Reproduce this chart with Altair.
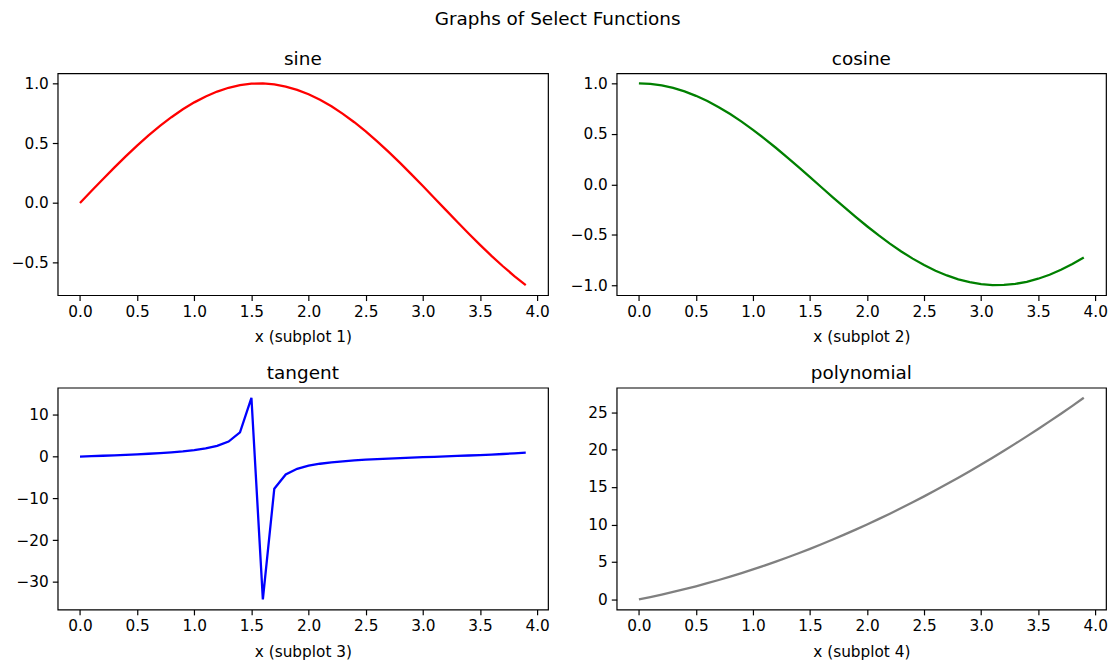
import altair as alt
import pandas as pd

xs = [0.0, 0.1, 0.2, 0.3, 0.4, 0.5, 0.6, 0.7, 0.8, 0.9,
      1.0, 1.1, 1.2, 1.3, 1.4, 1.5, 1.6, 1.7, 1.8, 1.9,
      2.0, 2.1, 2.2, 2.3, 2.4, 2.5, 2.6, 2.7, 2.8, 2.9,
      3.0, 3.1, 3.2, 3.3, 3.4, 3.5, 3.6, 3.7, 3.8, 3.9]

sine = [0.0, 0.0998, 0.1987, 0.2955, 0.3894, 0.4794, 0.5646, 0.6442, 0.7174, 0.7833,
        0.8415, 0.8912, 0.9320, 0.9636, 0.9854, 0.9975, 0.9996, 0.9917, 0.9738, 0.9463,
        0.9093, 0.8632, 0.8085, 0.7457, 0.6755, 0.5985, 0.5155, 0.4274, 0.3350, 0.2392,
        0.1411, 0.0416, -0.0584, -0.1577, -0.2555, -0.3508, -0.4425, -0.5298, -0.6119, -0.6878]

cosine = [1.0, 0.9950, 0.9801, 0.9553, 0.9211, 0.8776, 0.8253, 0.7648, 0.6967, 0.6216,
          0.5403, 0.4536, 0.3624, 0.2675, 0.1700, 0.0707, -0.0292, -0.1288, -0.2272, -0.3233,
          -0.4161, -0.5048, -0.5885, -0.6663, -0.7374, -0.8011, -0.8569, -0.9041, -0.9422, -0.9710,
          -0.9900, -0.9991, -0.9983, -0.9875, -0.9668, -0.9365, -0.8968, -0.8481, -0.7910, -0.7259]

tangent = [0.0, 0.1003, 0.2027, 0.3093, 0.4228, 0.5463, 0.6841, 0.8423, 1.0296, 1.2602,
           1.5574, 1.9648, 2.5722, 3.6021, 5.7979, 14.1014, -34.2325, -7.6966, -4.2863, -2.9271,
           -2.1850, -1.7098, -1.3738, -1.1192, -0.9160, -0.7470, -0.6016, -0.4727, -0.3555, -0.2464,
           -0.1425, -0.0416, 0.0585, 0.1597, 0.2643, 0.3746, 0.4935, 0.6247, 0.7736, 0.9474]

polynomial = [0.0, 0.31, 0.64, 0.99, 1.36, 1.75, 2.16, 2.59, 3.04, 3.51,
              4.0, 4.51, 5.04, 5.59, 6.16, 6.75, 7.36, 7.99, 8.64, 9.31,
              10.0, 10.71, 11.44, 12.19, 12.96, 13.75, 14.56, 15.39, 16.24, 17.11,
              18.0, 18.91, 19.84, 20.79, 21.76, 22.75, 23.76, 24.79, 25.84, 26.91]

x_ticks = [0.0, 0.5, 1.0, 1.5, 2.0, 2.5, 3.0, 3.5, 4.0]
FONT = "DejaVu Sans"
TITLE_SIZE = 18.5
LABEL_SIZE = 15.4


def panel(ys, color, title, xtitle, ydomain, yticks, yfmt, width):
    df = pd.DataFrame({"x": xs, "y": ys})
    return alt.Chart(
        df,
        title=alt.TitleParams(title, fontSize=TITLE_SIZE, font=FONT, fontWeight="normal",
                              color="black", anchor="middle", offset=5),
    ).mark_line(color=color, strokeWidth=2.3).encode(
        x=alt.X("x:Q",
                scale=alt.Scale(domain=[-0.195, 4.095], nice=False, zero=False),
                axis=alt.Axis(values=x_ticks, format=".1f", title=xtitle)),
        y=alt.Y("y:Q",
                scale=alt.Scale(domain=ydomain, nice=False, zero=False),
                axis=alt.Axis(values=yticks, format=yfmt, title=None,
                              minExtent=50, maxExtent=50)),
    ).properties(width=width, height=223)


p1 = panel(sine, "red", "sine", "x (subplot 1)", [-0.772, 1.084],
           [-0.5, 0.0, 0.5, 1.0], ".1f", 493)
p2 = panel(cosine, "green", "cosine", "x (subplot 2)", [-1.1, 1.1],
           [-1.0, -0.5, 0.0, 0.5, 1.0], ".1f", 492)
p3 = panel(tangent, "blue", "tangent", "x (subplot 3)", [-36.65, 16.52],
           [-30, -20, -10, 0, 10], "d", 493)
p4 = panel(polynomial, "gray", "polynomial", "x (subplot 4)", [-1.35, 28.26],
           [0, 5, 10, 15, 20, 25], "d", 492)

chart = alt.vconcat(
    alt.hconcat(p1, p2, spacing=16),
    alt.hconcat(p3, p4, spacing=16),
    spacing=17,
).properties(
    title=alt.TitleParams("Graphs of Select Functions", fontSize=TITLE_SIZE, font=FONT,
                          fontWeight="normal", color="black", anchor="middle", offset=21),
    padding={"left": 7, "top": 8, "right": 4, "bottom": 0},
    background="white",
).configure_view(
    stroke="black", strokeWidth=1.2
).configure_axis(
    domain=False, grid=False,
    ticks=True, tickColor="black", tickSize=5.4, tickWidth=1.2,
    labelFont=FONT, labelFontSize=LABEL_SIZE, labelColor="black", labelPadding=4,
    titleFont=FONT, titleFontSize=LABEL_SIZE, titleFontWeight="normal", titleColor="black",
    titlePadding=10,
)

chart.save("out.html", embed_options={"renderer": "svg", "actions": False})
